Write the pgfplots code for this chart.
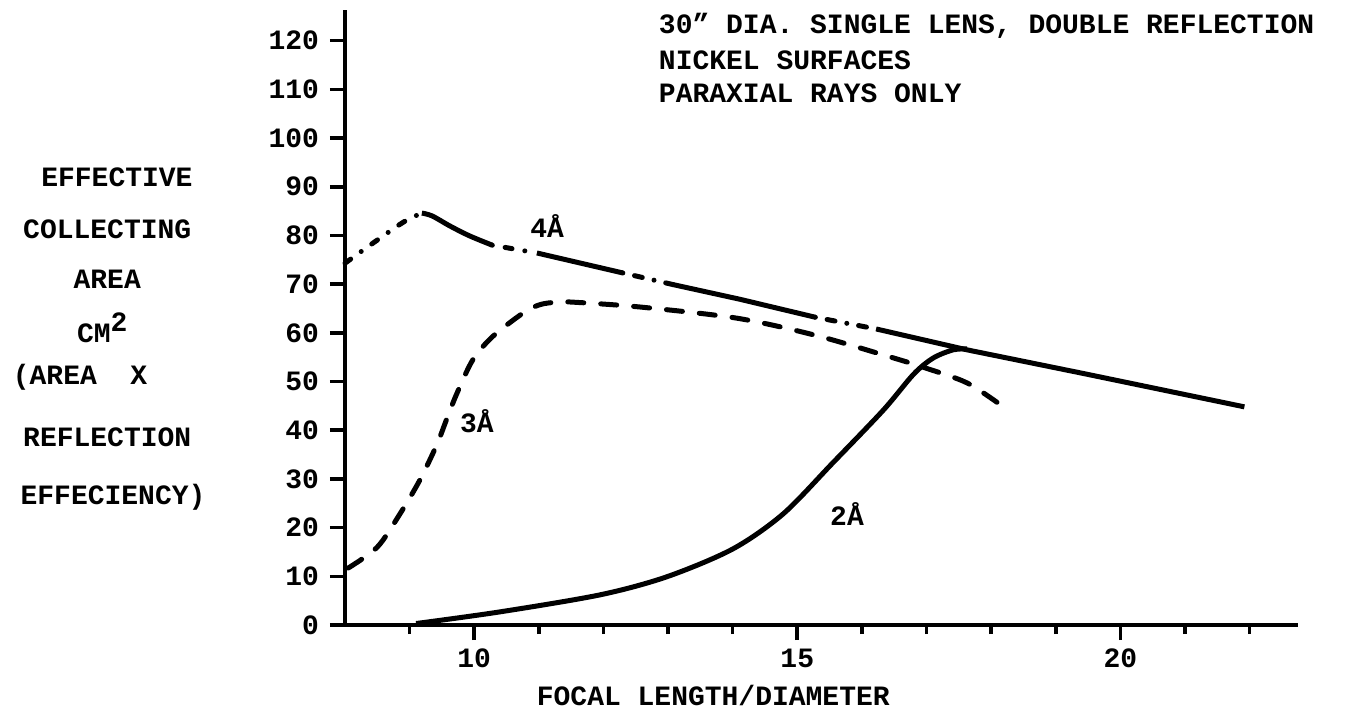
\documentclass[border=0pt]{standalone}
\usepackage{fontspec}
\setmainfont{Liberation Mono}
\usepackage{pgfplots}
\pgfplotsset{compat=1.18}
\newcommand{\lf}{\fontsize{14}{17}\selectfont\bfseries}
\begin{document}
\begin{tikzpicture}[font=\lf]
\useasboundingbox (0,0) rectangle (674pt,356pt);
\begin{axis}[
  at={(172.5pt,43.5pt)}, anchor=south west,
  scale only axis, width=476.5pt, height=307.5pt,
  xmin=8, xmax=22.75, ymin=0, ymax=126.3,
  axis lines=left,
  axis line style={-, line width=2pt, black},
  every outer x axis line/.append style={-},
  every outer y axis line/.append style={-},
  clip=false,
  xtick={10,15,20},
  minor xtick={9,11,12,13,14,16,17,18,19,21,22},
  ytick={0,10,...,120},
  tick align=outside,
  major tick length=7.5pt, minor tick length=4.5pt,
  tick style={line width=1.8pt, black},
  tick label style={font=\lf},
  /pgf/number format/assume math mode=true,
  xticklabel style={yshift=-1pt},
  yticklabel style={xshift=-2pt},
]
% 3A dashed
\addplot[black, line width=2.5pt, line cap=round, dash pattern=on 8pt off 8.5pt, smooth, tension=0.5] coordinates {
(8.05,11.7) (8.5,16.0) (8.85,22.8) (9.16,29.8) (9.42,37.0) (9.58,42.5) (9.73,47.5) (9.98,54.5) (10.29,59.3) (10.76,64.1) (11.02,65.8) (11.28,66.3) (11.53,66.3) (12.57,65.3) (14.07,63.0) (15.28,59.5) (16.45,55.0) (16.98,52.8) (17.63,49.7) (18.19,44.8)};
% 2A solid
\addplot[black, line width=2.5pt, smooth, tension=0.5] coordinates {
(9.1,0.3) (10.4,2.7) (11.95,6.2) (12.98,9.9) (14.0,15.6) (14.78,22.8) (15.55,33.3) (16.33,44.1) (16.8,51.5) (17.1,54.8) (17.41,56.5) (17.63,56.7)};
% 4A: dash-dot and solid pieces of one curve
\addplot[black, line width=2.5pt, line cap=round, dash pattern=on 3.5pt off 6.5pt on 0pt off 6.5pt, smooth, tension=0.5] coordinates {
(8.0,74.3) (8.43,78.4) (8.9,82.7) (9.19,84.6)};
\addplot[black, line width=2.5pt, smooth, tension=0.5] coordinates {
(9.19,84.6) (9.35,84.0) (9.63,81.9) (9.93,79.9) (10.28,78.0)};
\addplot[black, line width=2.5pt, line cap=round, dash pattern=on 0pt off 6.5pt on 3.5pt off 6.5pt] coordinates {
(10.28,78.0) (10.97,76.4)};
\addplot[black, line width=2.5pt] coordinates {
(10.97,76.4) (12.30,72.3)};
\addplot[black, line width=2.5pt, line cap=round, dash pattern=on 0pt off 6pt on 4pt off 6pt] coordinates {
(12.30,72.3) (13.08,69.9)};
\addplot[black, line width=2.5pt] coordinates {
(13.08,69.9) (14.11,66.9) (15.28,63.2)};
\addplot[black, line width=2.5pt, line cap=round, dash pattern=on 0pt off 6pt on 4pt off 6pt] coordinates {
(15.28,63.2) (16.22,60.8)};
\addplot[black, line width=2.5pt] coordinates {
(16.22,60.8) (17.63,56.5) (19.41,51.7) (21.92,44.8)};
% curve labels
\node at (axis cs:11.13,81.9) {4Å};
\node at (axis cs:10.04,41.8) {3Å};
\node at (axis cs:15.77,22.8) {2Å};
% title block
\node[anchor=west] at (axis cs:12.75,123.0) {30" DIA. SINGLE LENS, DOUBLE REFLECTION};
\node[anchor=west] at (axis cs:12.75,116.0) {NICKEL SURFACES};
\node[anchor=west] at (axis cs:12.75,109.3) {PARAXIAL RAYS ONLY};
% y label block
\node at (axis cs:4.47,92.0) {EFFECTIVE};
\node at (axis cs:4.32,81.3) {COLLECTING};
\node at (axis cs:4.32,71.0) {AREA};
\node at (axis cs:4.25,61.0) {CM$^{\mbox{\lf 2}}$};
\node[anchor=west] at (axis cs:2.75,50.8) {(AREA\hspace{1.2em}X};
\node at (axis cs:4.32,38.5) {REFLECTION};
\node at (axis cs:4.41,26.3) {EFFECIENCY)};
% x label
\node at (axis cs:13.7,-14.4) {FOCAL LENGTH/DIAMETER};
\end{axis}
\end{tikzpicture}
\end{document}
